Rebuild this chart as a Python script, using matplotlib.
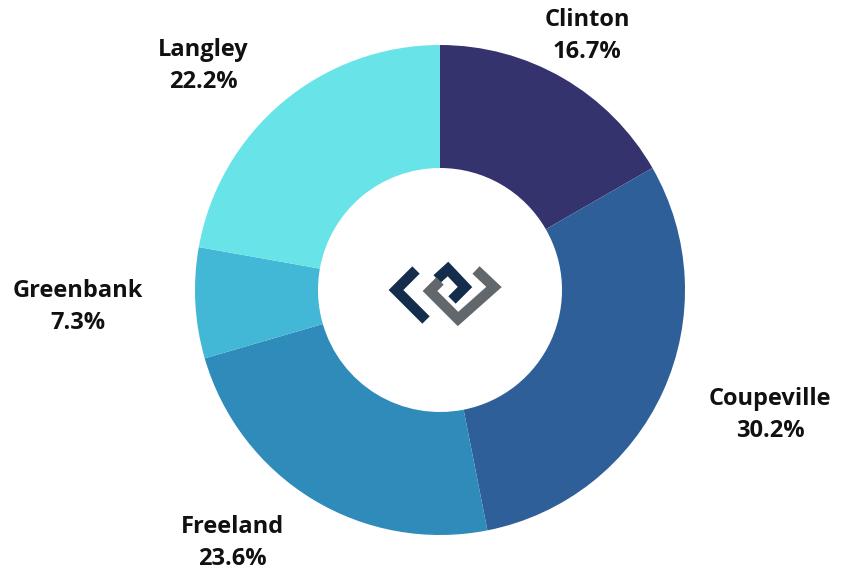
import matplotlib.pyplot as plt

towns = ['Clinton', 'Coupeville', 'Freeland', 'Greenbank', 'Langley']
shares = [16.7, 30.2, 23.6, 7.3, 22.2]
colors = ['#34336e', '#2e5f98', '#2e8bba', '#42b7d6', '#68e3e8']

# label anchor points (pixels, from top-left)
label_pos = [(587, 36), (770, 415), (232, 543), (78, 307), (203, 66)]

W, H = 841, 574
cx, cy = 440, 290

fig = plt.figure(figsize=(W / 100, H / 100), dpi=100)
ax = fig.add_axes([0, 0, 1, 1])
ax.set_xlim(0, W)
ax.set_ylim(0, H)
ax.axis('off')

ax.pie(shares, colors=colors, startangle=90, counterclock=False,
       center=(cx, H - cy), radius=245,
       wedgeprops=dict(width=123, linewidth=0))
ax.set_xlim(0, W)
ax.set_ylim(0, H)
ax.set_aspect('equal')

for name, val, (x, y) in zip(towns, shares, label_pos):
    ax.text(x, H - y, f'{name}\n{val:.1f}%', ha='center', va='center',
            fontsize=17, fontweight='bold', family='Open Sans',
            color='#111111', linespacing=1.45)

# logo in the middle
navy = '#142d4c'
gray = '#62676c'
def logo_line(pts, color):
    xs = [p[0] for p in pts]
    ys = [H - p[1] for p in pts]
    ax.plot(xs, ys, color=color, linewidth=7.5, solid_joinstyle='miter',
            solid_capstyle='butt')

logo_line([(416, 270), (396, 290), (426, 320)], navy)
logo_line([(437, 279), (448, 269), (465, 287), (452, 300)], navy)
logo_line([(440, 281), (430, 291), (458, 319), (494, 287), (476, 270)], gray)

fig.savefig('out.png', dpi=100)
